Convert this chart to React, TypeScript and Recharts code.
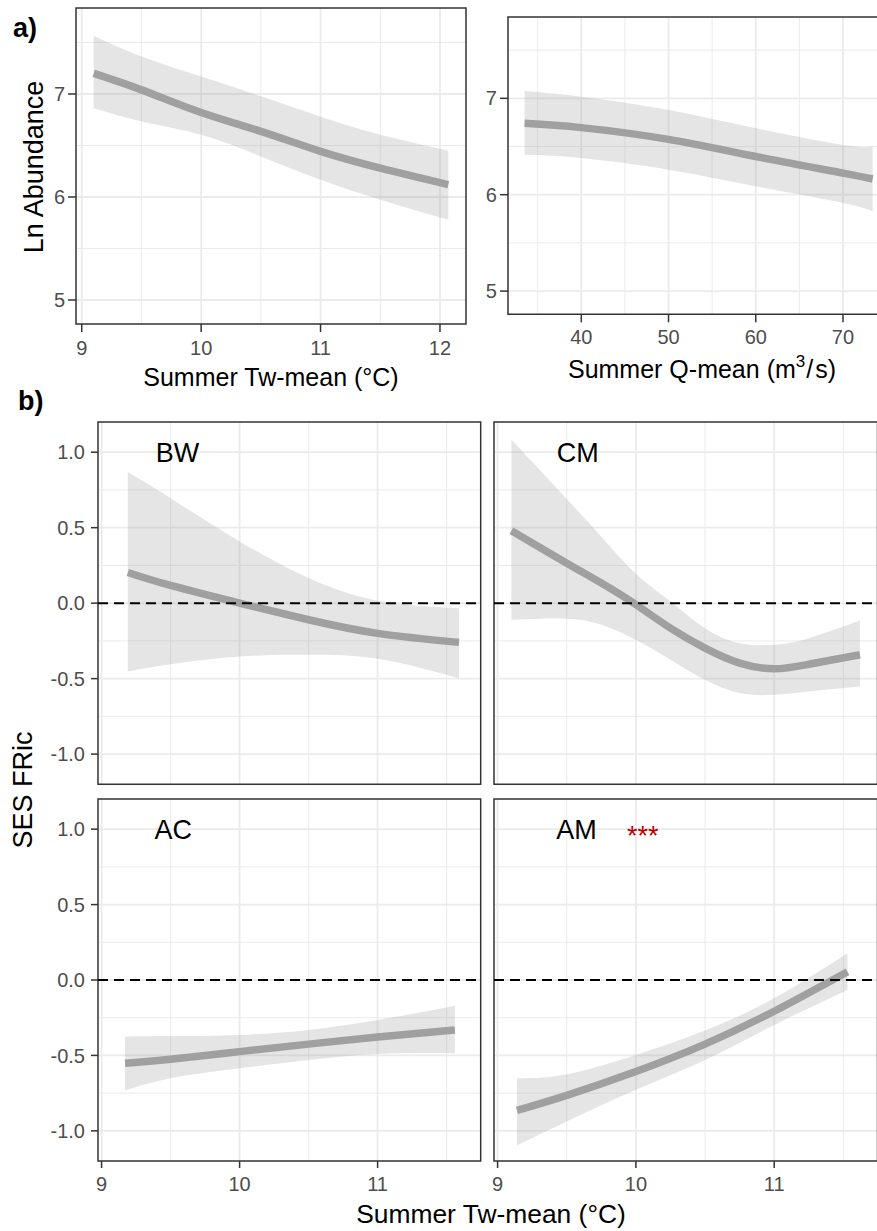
import React from 'react';
import {
  ComposedChart,
  Area,
  Line,
  XAxis,
  YAxis,
  CartesianGrid,
  ReferenceLine,
  ReferenceArea,
  ReferenceDot,
} from 'recharts';

const FONT = '"Liberation Sans", Arial, Helvetica, sans-serif';

// ---- a) Ln abundance vs summer water temperature ----
const abTempX = [9.1, 9.5, 10, 10.5, 11, 11.5, 12.07];
const abTempFit = [7.2, 7.04, 6.82, 6.637, 6.443, 6.28, 6.12];
const abTempLo = [6.864, 6.734, 6.605, 6.394, 6.168, 5.974, 5.78];
const abTempHi = [7.566, 7.365, 7.17, 6.977, 6.78, 6.605, 6.45];

// ---- a) Ln abundance vs summer discharge ----
const abFlowX = [33.5, 40, 50, 60, 70, 73.4];
const abFlowFit = [6.741, 6.696, 6.574, 6.396, 6.224, 6.163];
const abFlowLo = [6.414, 6.38, 6.259, 6.087, 5.915, 5.829];
const abFlowHi = [7.075, 7.017, 6.879, 6.69, 6.517, 6.5];

// ---- b) SES FRic vs summer water temperature, one facet per group ----
const bwX = [9.19, 9.5, 10, 10.5, 11, 11.59];
const bwFit = [0.203, 0.117, 0.0, -0.11, -0.2, -0.26];
const bwLo = [-0.452, -0.404, -0.353, -0.342, -0.368, -0.497];
const bwHi = [0.868, 0.695, 0.409, 0.166, 0.016, -0.033];

const cmX = [9.1, 9.5, 9.75, 10, 10.25, 10.5, 10.75, 11, 11.25, 11.62];
const cmFit = [0.479, 0.265, 0.133, -0.01, -0.166, -0.298, -0.397, -0.435, -0.405, -0.342];
const cmLo = [-0.11, -0.103, -0.143, -0.243, -0.375, -0.508, -0.596, -0.607, -0.585, -0.552];
const cmHi = [1.082, 0.69, 0.44, 0.195, 0.011, -0.166, -0.265, -0.276, -0.232, -0.115];

const acX = [9.17, 9.5, 10, 10.5, 11, 11.56];
const acFit = [-0.552, -0.525, -0.475, -0.425, -0.378, -0.331];
const acLo = [-0.733, -0.651, -0.585, -0.53, -0.49, -0.486];
const acHi = [-0.375, -0.372, -0.364, -0.331, -0.265, -0.17];

const amX = [9.14, 9.5, 10, 10.5, 11, 11.53];
const amFit = [-0.865, -0.765, -0.607, -0.425, -0.207, 0.055];
const amLo = [-1.097, -0.938, -0.728, -0.53, -0.298, -0.066];
const amHi = [-0.651, -0.625, -0.497, -0.335, -0.121, 0.177];

// ---- axis ticks ----
const tempTicksA = [9, 10, 11, 12];
const tempMinorA = [9.5, 10.5, 11.5];
const flowTicks = [40, 50, 60, 70];
const flowMinor = [35, 45, 55, 65, 75];
const abTicks = [5, 6, 7];
const abMinor = [5.5, 6.5, 7.5];
const tempTicksB = [9, 10, 11];
const tempMinorB = [9.5, 10.5, 11.5];
const sesTicks = [-1, -0.5, 0, 0.5, 1];
const sesMinor = [-0.75, -0.25, 0.25, 0.75];

type Row = { x: number; fit: number; band: [number, number] };

const buildRows = (x: number[], fit: number[], lo: number[], hi: number[]): Row[] =>
  x.map((v, i) => ({ x: v, fit: fit[i], band: [lo[i], hi[i]] }));

const scaleOf = (axis: any) => (v: number) => {
  const s = axis?.scale;
  if (typeof s === 'function') return s(v);
  if (s && typeof s.map === 'function') return s.map(v);
  return NaN;
};

type PanelProps = {
  left: number;
  top: number;
  w: number;
  h: number;
  xDomain: [number, number];
  yDomain: [number, number];
  xTicks: number[];
  xMinor: number[];
  yTicks: number[];
  yMinor: number[];
  showX: boolean;
  showY: boolean;
  tickSize: number;
  xTickMargin: number;
  yTickMargin: number;
  yFormat?: (v: number) => string;
  data: Row[];
  zeroLine?: boolean;
  tag?: { text: string; x: number; y: number };
  stars?: { text: string; x: number; y: number };
};

const YW = 90;
const XH = 44;
const PAD = 4;

function Panel(p: PanelProps) {
  const tickStyle = { fill: '#4d4d4d', fontSize: 20, fontFamily: FONT };
  const tickLine = { stroke: '#333333', strokeWidth: 1.5 };
  return (
    <div style={{ position: 'absolute', left: p.left - YW, top: p.top - PAD }}>
      <ComposedChart
        width={YW + p.w + PAD}
        height={PAD + p.h + XH}
        data={p.data}
        margin={{ top: PAD, right: PAD, bottom: 0, left: 0 }}
      >
        <CartesianGrid
          stroke="#ebebeb"
          strokeWidth={1}
          horizontalCoordinatesGenerator={({ yAxis }: any) => p.yMinor.map(scaleOf(yAxis))}
          verticalCoordinatesGenerator={({ xAxis }: any) => p.xMinor.map(scaleOf(xAxis))}
        />
        <CartesianGrid
          stroke="#ebebeb"
          strokeWidth={1.8}
          horizontalCoordinatesGenerator={({ yAxis }: any) => p.yTicks.map(scaleOf(yAxis))}
          verticalCoordinatesGenerator={({ xAxis }: any) => p.xTicks.map(scaleOf(xAxis))}
        />
        <XAxis
          dataKey="x"
          type="number"
          domain={p.xDomain}
          allowDataOverflow
          ticks={p.xTicks}
          interval={0}
          height={XH}
          axisLine={false}
          tick={p.showX ? tickStyle : false}
          tickLine={p.showX ? tickLine : false}
          tickSize={p.tickSize}
          tickMargin={p.xTickMargin}
        />
        <YAxis
          type="number"
          domain={p.yDomain}
          allowDataOverflow
          ticks={p.yTicks}
          interval={0}
          width={YW}
          axisLine={false}
          tick={p.showY ? tickStyle : false}
          tickLine={p.showY ? tickLine : false}
          tickSize={p.tickSize}
          tickMargin={p.yTickMargin}
          tickFormatter={p.yFormat}
        />
        <Area
          dataKey="band"
          type="natural"
          stroke="none"
          fill="#999999"
          fillOpacity={0.25}
          isAnimationActive={false}
        />
        <Line
          dataKey="fit"
          type="natural"
          stroke="#a0a0a0"
          strokeWidth={7.5}
          dot={false}
          activeDot={false}
          isAnimationActive={false}
        />
        {p.zeroLine && (
          <ReferenceLine y={0} stroke="#000000" strokeWidth={2} strokeDasharray="10 6" />
        )}
        {p.tag && (
          <ReferenceDot
            x={p.tag.x}
            y={p.tag.y}
            r={0}
            fill="none"
            stroke="none"
            label={{ value: p.tag.text, position: 'center', fontSize: 27, fill: '#000000', fontFamily: FONT }}
          />
        )}
        {p.stars && (
          <ReferenceDot
            x={p.stars.x}
            y={p.stars.y}
            r={0}
            fill="none"
            stroke="none"
            label={{ value: p.stars.text, position: 'center', fontSize: 27, fill: '#c00000', fontFamily: FONT }}
          />
        )}
        <ReferenceArea
          x1={p.xDomain[0]}
          x2={p.xDomain[1]}
          y1={p.yDomain[0]}
          y2={p.yDomain[1]}
          fill="none"
          stroke="#333333"
          strokeWidth={1.5}
          ifOverflow="visible"
        />
      </ComposedChart>
    </div>
  );
}

const fmt1 = (v: number) => v.toFixed(1);

const facetX: [number, number] = [8.974, 11.747];
const facetY: [number, number] = [-1.2, 1.2];

export default function App() {
  const facetCommon = {
    xDomain: facetX,
    yDomain: facetY,
    xTicks: tempTicksB,
    xMinor: tempMinorB,
    yTicks: sesTicks,
    yMinor: sesMinor,
    tickSize: 7,
    xTickMargin: 9,
    yTickMargin: 6,
    yFormat: fmt1,
    zeroLine: true,
  };
  return (
    <div
      style={{
        position: 'absolute',
        left: 0,
        top: 0,
        width: 877,
        height: 1231,
        overflow: 'hidden',
        background: '#ffffff',
        fontFamily: FONT,
      }}
    >
      <Panel
        left={76}
        top={8}
        w={390}
        h={316}
        xDomain={[8.952, 12.218]}
        yDomain={[4.767, 7.835]}
        xTicks={tempTicksA}
        xMinor={tempMinorA}
        yTicks={abTicks}
        yMinor={abMinor}
        showX
        showY
        tickSize={8}
        xTickMargin={9}
        yTickMargin={3}
        data={buildRows(abTempX, abTempFit, abTempLo, abTempHi)}
      />
      <Panel
        left={507.7}
        top={16.7}
        w={382.1}
        h={297.3}
        xDomain={[31.6, 75.4]}
        yDomain={[4.759, 7.844]}
        xTicks={flowTicks}
        xMinor={flowMinor}
        yTicks={abTicks}
        yMinor={abMinor}
        showX
        showY
        tickSize={8}
        xTickMargin={8}
        yTickMargin={3}
        data={buildRows(abFlowX, abFlowFit, abFlowLo, abFlowHi)}
      />
      <Panel
        {...facetCommon}
        left={98.3}
        top={421.7}
        w={382.7}
        h={362.3}
        showX={false}
        showY
        data={buildRows(bwX, bwFit, bwLo, bwHi)}
        tag={{ text: 'BW', x: 9.55, y: 1.0 }}
      />
      <Panel
        {...facetCommon}
        left={494.3}
        top={421.7}
        w={383.5}
        h={362.3}
        showX={false}
        showY={false}
        data={buildRows(cmX, cmFit, cmLo, cmHi)}
        tag={{ text: 'CM', x: 9.58, y: 1.0 }}
      />
      <Panel
        {...facetCommon}
        left={98.3}
        top={799}
        w={382.7}
        h={362}
        showX
        showY
        data={buildRows(acX, acFit, acLo, acHi)}
        tag={{ text: 'AC', x: 9.52, y: 1.0 }}
      />
      <Panel
        {...facetCommon}
        left={494.3}
        top={799}
        w={383.5}
        h={362}
        showX
        showY={false}
        data={buildRows(amX, amFit, amLo, amHi)}
        tag={{ text: 'AM', x: 9.57, y: 1.0 }}
        stars={{ text: '***', x: 10.05, y: 0.96 }}
      />
      <svg
        width={877}
        height={1231}
        style={{ position: 'absolute', left: 0, top: 0, pointerEvents: 'none' }}
        fontFamily={FONT}
      >
        <text x={13} y={37} fontSize={27} fontWeight="bold" fill="#000">
          a)
        </text>
        <text x={18} y={410} fontSize={27} fontWeight="bold" fill="#000">
          b)
        </text>
        <text
          x={43}
          y={167}
          fontSize={27}
          fill="#000"
          textAnchor="middle"
          transform="rotate(-90 43 167)"
        >
          Ln Abundance
        </text>
        <text x={271} y={386} fontSize={25} fill="#000" textAnchor="middle">
          Summer Tw-mean (°C)
        </text>
        <text x={702} y={378} fontSize={25} fill="#000" textAnchor="middle">
          Summer Q-mean (m
          <tspan fontSize={17} dy={-11}>3</tspan>
          <tspan dy={11} dx={1}>/</tspan>
          <tspan dx={2}>s)</tspan>
        </text>
        <text
          x={32}
          y={790}
          fontSize={27}
          fill="#000"
          textAnchor="middle"
          transform="rotate(-90 32 790)"
        >
          SES FRic
        </text>
        <text x={491} y={1223} fontSize={26.4} fill="#000" textAnchor="middle">
          Summer Tw-mean (°C)
        </text>
      </svg>
    </div>
  );
}
